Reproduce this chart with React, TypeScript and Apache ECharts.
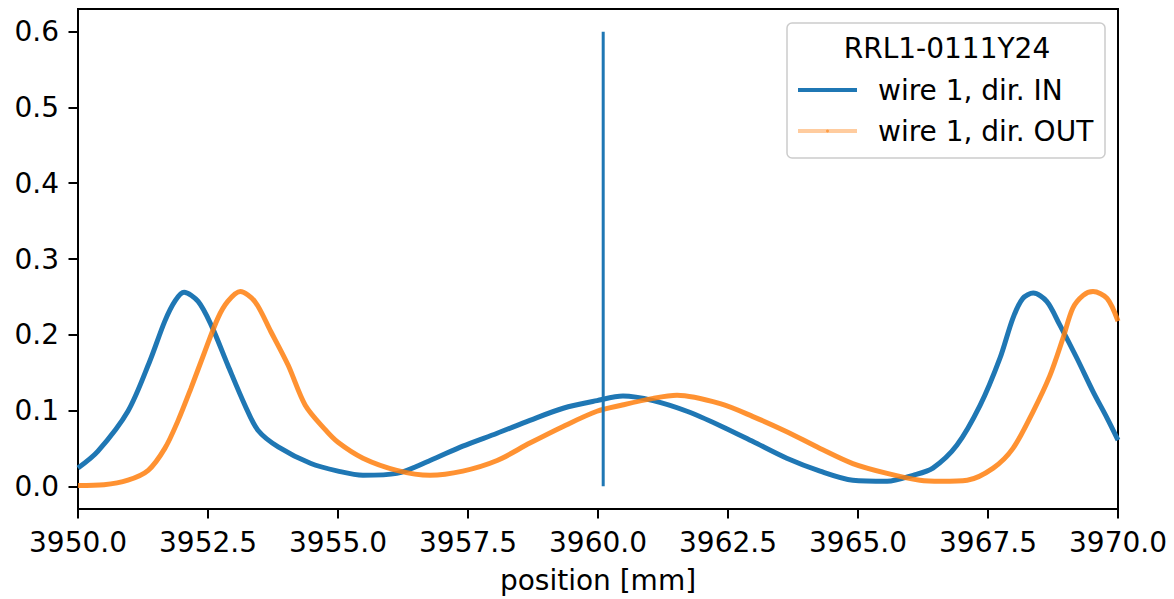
import React, { useEffect, useRef } from "react";
import * as echarts from "echarts";

const xIn = [3950.0, 3950.38, 3950.96, 3951.38, 3951.67, 3951.87, 3952.04, 3952.31, 3952.56, 3952.88, 3953.21, 3953.46, 3953.85, 3954.48, 3955.0, 3955.48, 3956.13, 3956.77, 3957.4, 3958.06, 3958.69, 3959.33, 3959.98, 3960.48, 3961.06, 3961.71, 3962.35, 3962.98, 3963.63, 3964.27, 3964.9, 3965.56, 3966.06, 3966.44, 3966.9, 3967.35, 3967.73, 3967.98, 3968.17, 3968.37, 3968.63, 3968.88, 3969.21, 3969.52, 3969.79, 3970.0];
const yIn = [0.024, 0.046, 0.099, 0.165, 0.218, 0.245, 0.256, 0.244, 0.213, 0.16, 0.107, 0.074, 0.052, 0.03, 0.02, 0.0145, 0.017, 0.034, 0.053, 0.07, 0.087, 0.103, 0.113, 0.119, 0.113, 0.099, 0.08, 0.059, 0.037, 0.02, 0.008, 0.0066, 0.0145, 0.024, 0.054, 0.107, 0.169, 0.222, 0.248, 0.255, 0.244, 0.213, 0.169, 0.125, 0.09, 0.061];

const xOut = [3950.0, 3950.5, 3950.96, 3951.35, 3951.67, 3951.92, 3952.17, 3952.44, 3952.69, 3952.88, 3953.12, 3953.4, 3953.71, 3954.04, 3954.37, 3954.75, 3955.0, 3955.48, 3956.13, 3956.77, 3957.4, 3958.06, 3958.69, 3959.33, 3959.98, 3960.45, 3961.06, 3961.52, 3962.35, 3962.98, 3963.63, 3964.27, 3964.9, 3965.56, 3966.19, 3966.6, 3967.1, 3967.6, 3967.98, 3968.37, 3968.69, 3968.94, 3969.13, 3969.33, 3969.52, 3969.79, 3970.0];
const yOut = [0.001, 0.002, 0.008, 0.021, 0.05, 0.086, 0.129, 0.178, 0.222, 0.244, 0.257, 0.244, 0.204, 0.16, 0.107, 0.075, 0.058, 0.037, 0.021, 0.0145, 0.02, 0.034, 0.057, 0.079, 0.099, 0.107, 0.116, 0.12, 0.109, 0.092, 0.072, 0.05, 0.03, 0.017, 0.008, 0.0066, 0.008, 0.024, 0.05, 0.099, 0.146, 0.195, 0.235, 0.252, 0.257, 0.248, 0.218];

const markerX = [3960.1, 3960.1];
const markerY = [0.0, 0.6];

const yTicks = [0.0, 0.1, 0.2, 0.3, 0.4, 0.5, 0.6];

const legendTitle = "RRL1-0111Y24";
const seriesNames = ["wire 1, dir. IN", "wire 1, dir. OUT"];

const BLUE = "#1f77b4";
const ORANGE = "#ff7f0e";
const FONT = "DejaVu Sans";
const FS = 28;

const zip = (xs: number[], ys: number[]) => xs.map((x, i) => [x, ys[i]]);

export default function App() {
  const ref = useRef<HTMLDivElement>(null);
  useEffect(() => {
    if (!ref.current) return;
    const chart = echarts.init(ref.current, null, { renderer: "svg" });
    chart.setOption({
      animation: false,
      backgroundColor: "#ffffff",
      grid: {
        left: 78,
        right: 56,
        top: 9,
        bottom: 89,
        show: true,
        borderColor: "#000",
        borderWidth: 2,
        backgroundColor: "transparent",
      },
      xAxis: {
        type: "value",
        min: 3950,
        max: 3970,
        interval: 2.5,
        name: "position [mm]",
        nameLocation: "middle",
        nameGap: 57,
        nameTextStyle: { fontSize: FS, fontFamily: FONT, color: "#000" },
        axisLine: { show: true, onZero: false, lineStyle: { color: "#000", width: 2 } },
        axisTick: { show: true, length: 9.5, lineStyle: { color: "#000", width: 2 } },
        axisLabel: {
          fontSize: FS,
          fontFamily: FONT,
          color: "#000",
          margin: 19,
          formatter: (v: number) => v.toFixed(1),
        },
        splitLine: { show: false },
      },
      yAxis: {
        type: "value",
        min: -0.03,
        max: 0.63,
        axisLine: { show: true, onZero: false, lineStyle: { color: "#000", width: 2 } },
        axisTick: { show: true, length: 9.5, customValues: yTicks, lineStyle: { color: "#000", width: 2 } },
        axisLabel: {
          fontSize: FS,
          fontFamily: FONT,
          color: "#000",
          margin: 19,
          customValues: yTicks,
          formatter: (v: number) => v.toFixed(1),
        },
        splitLine: { show: false },
      },
      series: [
        {
          name: seriesNames[0],
          type: "line",
          data: zip(xIn, yIn),
          showSymbol: false,
          smooth: 0.3,
          lineStyle: { color: BLUE, width: 5 },
          itemStyle: { color: BLUE },
          z: 2,
        },
        {
          name: seriesNames[1],
          type: "line",
          data: zip(xOut, yOut),
          showSymbol: false,
          smooth: 0.3,
          lineStyle: { color: ORANGE, width: 5, opacity: 0.85 },
          itemStyle: { color: ORANGE },
          z: 3,
        },
        {
          name: "marker",
          type: "line",
          data: zip(markerX, markerY),
          showSymbol: false,
          lineStyle: { color: BLUE, width: 3 },
          z: 4,
        },
      ],
      graphic: [
        {
          type: "group",
          z: 100,
          children: [
            {
              type: "rect",
              shape: { x: 787, y: 23, width: 318, height: 135, r: 5 },
              style: { fill: "rgba(255,255,255,0.8)", stroke: "#cccccc", lineWidth: 1.5 },
            },
            {
              type: "text",
              x: 947,
              y: 48,
              style: { text: legendTitle, fontSize: FS, fontFamily: FONT, fill: "#000", align: "center", verticalAlign: "middle" },
            },
            {
              type: "line",
              shape: { x1: 798, y1: 90, x2: 857, y2: 90 },
              style: { stroke: BLUE, lineWidth: 4 },
            },
            {
              type: "circle",
              shape: { cx: 827.5, cy: 90, r: 1.5 },
              style: { fill: BLUE },
            },
            {
              type: "text",
              x: 878,
              y: 90,
              style: { text: seriesNames[0], fontSize: FS, fontFamily: FONT, fill: "#000", align: "left", verticalAlign: "middle" },
            },
            {
              type: "line",
              shape: { x1: 798, y1: 131, x2: 857, y2: 131 },
              style: { stroke: "rgba(255,127,14,0.4)", lineWidth: 4 },
            },
            {
              type: "circle",
              shape: { cx: 827.5, cy: 131, r: 1.5 },
              style: { fill: "rgba(255,127,14,0.6)" },
            },
            {
              type: "text",
              x: 878,
              y: 131,
              style: { text: seriesNames[1], fontSize: FS, fontFamily: FONT, fill: "#000", align: "left", verticalAlign: "middle" },
            },
          ],
        },
      ],
    });
    return () => chart.dispose();
  }, []);
  return (
    <div
      ref={ref}
      style={{ position: "fixed", left: 0, top: 0, width: 1174, height: 599, background: "#fff" }}
    />
  );
}
